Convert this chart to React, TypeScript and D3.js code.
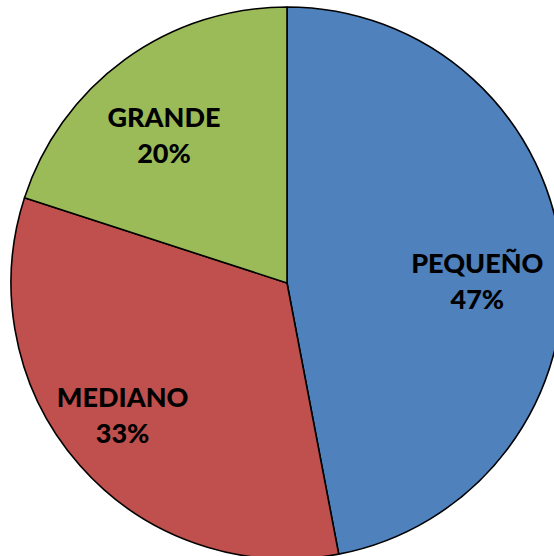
import React from "react";
import * as d3 from "d3";

const categories = ["PEQUEÑO", "MEDIANO", "GRANDE"];
const values = [47, 33, 20];
const colors = ["#4F81BD", "#C0504D", "#9BBB59"];
const labelNudges: [number, number][] = [[-2, 8], [-19.5, -4], [-9.5, 0]];

const W = 554;
const H = 556;
const cx = 287;
const cy = 283;
const R = 276;
const labelR = R * 0.7;

export default function App() {
  const pie = d3.pie<number>().sort(null).value((d) => d)(values);
  const arc = d3.arc<d3.PieArcDatum<number>>().innerRadius(0).outerRadius(R);
  return (
    <svg
      width={W}
      height={H}
      style={{ position: "absolute", left: 0, top: 0 }}
    >
      <rect width={W} height={H} fill="#fff" />
      <g transform={`translate(${cx},${cy})`}>
        {pie.map((p, i) => (
          <path key={i} d={arc(p) || ""} fill={colors[i]} stroke="#000" strokeWidth={1.6} strokeLinejoin="round" />
        ))}
        {pie.map((p, i) => {
          const a = (p.startAngle + p.endAngle) / 2;
          const x = Math.sin(a) * labelR + labelNudges[i][0];
          const y = -Math.cos(a) * labelR + labelNudges[i][1];
          return (
            <text
              key={"t" + i}
              textAnchor="middle"
              fontFamily="Lato, 'Open Sans', sans-serif"
              fontWeight={900}
              fontSize={27}
              fill="#000"
            >
              <tspan x={x} y={y}>{categories[i]}</tspan>
              <tspan x={x} y={y + 36}>{`${values[i]}%`}</tspan>
            </text>
          );
        })}
      </g>
    </svg>
  );
}
